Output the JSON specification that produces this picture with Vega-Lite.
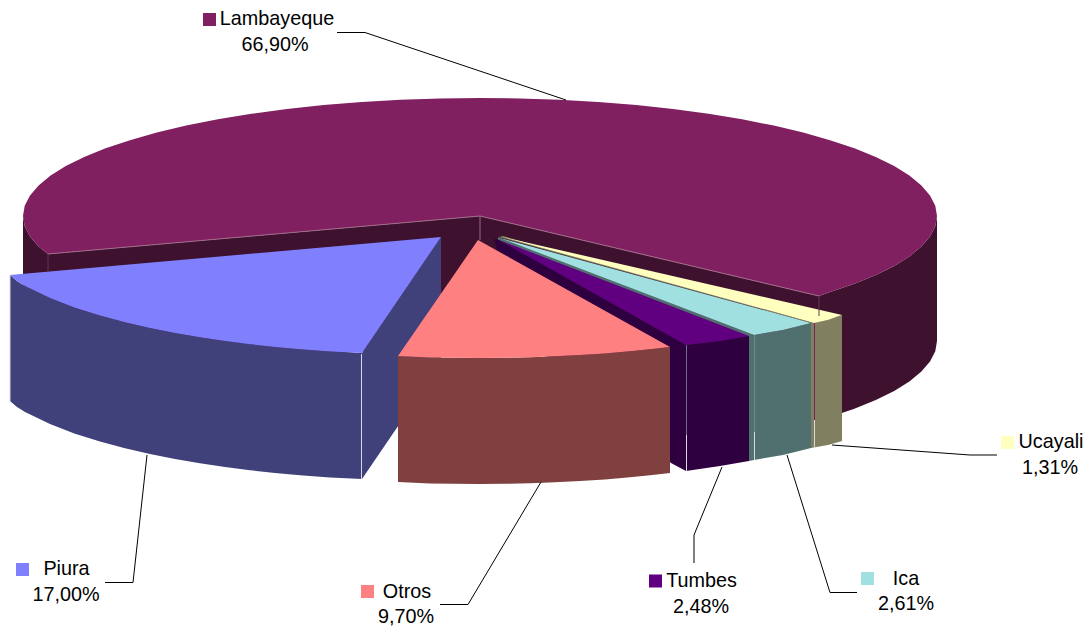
{"$schema":"https://vega.github.io/schema/vega-lite/v6.json","width":1090,"height":628,"padding":0,"autosize":{"type":"none"},"background":"white","view":{"stroke":null},
"datasets":{
"poly":[
{"p":"a1","f":"Lambayeque side","i":0,"x":937,"y":216},{"p":"a1","f":"Lambayeque side","i":1,"x":935.3,"y":226.3},{"p":"a1","f":"Lambayeque side","i":2,"x":930,"y":236.5},{"p":"a1","f":"Lambayeque side","i":3,"x":921.4,"y":246.5},{"p":"a1","f":"Lambayeque side","i":4,"x":909.4,"y":256.4},{"p":"a1","f":"Lambayeque side","i":5,"x":894.2,"y":265.9},{"p":"a1","f":"Lambayeque side","i":6,"x":875.8,"y":275},{"p":"a1","f":"Lambayeque side","i":7,"x":854.4,"y":283.7},{"p":"a1","f":"Lambayeque side","i":8,"x":830,"y":291.9},{"p":"a1","f":"Lambayeque side","i":9,"x":819,"y":296},{"p":"a1","f":"Lambayeque side","i":10,"x":819,"y":421},{"p":"a1","f":"Lambayeque side","i":11,"x":830,"y":416.9},{"p":"a1","f":"Lambayeque side","i":12,"x":854.4,"y":408.7},{"p":"a1","f":"Lambayeque side","i":13,"x":875.8,"y":400},{"p":"a1","f":"Lambayeque side","i":14,"x":894.2,"y":390.9},{"p":"a1","f":"Lambayeque side","i":15,"x":909.4,"y":381.4},{"p":"a1","f":"Lambayeque side","i":16,"x":921.4,"y":371.5},{"p":"a1","f":"Lambayeque side","i":17,"x":930,"y":361.5},{"p":"a1","f":"Lambayeque side","i":18,"x":935.3,"y":351.3},{"p":"a1","f":"Lambayeque side","i":19,"x":937,"y":341},
{"p":"a2","f":"Lambayeque side","i":0,"x":23,"y":216},{"p":"a2","f":"Lambayeque side","i":1,"x":24.7,"y":226.3},{"p":"a2","f":"Lambayeque side","i":2,"x":30,"y":236.5},{"p":"a2","f":"Lambayeque side","i":3,"x":38.6,"y":246.5},{"p":"a2","f":"Lambayeque side","i":4,"x":48,"y":254},{"p":"a2","f":"Lambayeque side","i":5,"x":48,"y":379},{"p":"a2","f":"Lambayeque side","i":6,"x":23,"y":341},
{"p":"a3","f":"Lambayeque side","i":0,"x":48,"y":254},{"p":"a3","f":"Lambayeque side","i":1,"x":480,"y":216},{"p":"a3","f":"Lambayeque side","i":2,"x":819,"y":296},{"p":"a3","f":"Lambayeque side","i":3,"x":819,"y":421},{"p":"a3","f":"Lambayeque side","i":4,"x":480,"y":341},{"p":"a3","f":"Lambayeque side","i":5,"x":48,"y":379},
{"p":"a4","f":"Lambayeque top","i":0,"x":480,"y":216},{"p":"a4","f":"Lambayeque top","i":1,"x":819,"y":296},{"p":"a4","f":"Lambayeque top","i":2,"x":830,"y":291.9},{"p":"a4","f":"Lambayeque top","i":3,"x":854.4,"y":283.7},{"p":"a4","f":"Lambayeque top","i":4,"x":875.8,"y":275},{"p":"a4","f":"Lambayeque top","i":5,"x":894.2,"y":265.9},{"p":"a4","f":"Lambayeque top","i":6,"x":909.4,"y":256.4},{"p":"a4","f":"Lambayeque top","i":7,"x":921.4,"y":246.5},{"p":"a4","f":"Lambayeque top","i":8,"x":930,"y":236.5},{"p":"a4","f":"Lambayeque top","i":9,"x":935.3,"y":226.3},{"p":"a4","f":"Lambayeque top","i":10,"x":937,"y":216},{"p":"a4","f":"Lambayeque top","i":11,"x":935.3,"y":205.7},{"p":"a4","f":"Lambayeque top","i":12,"x":930,"y":195.5},{"p":"a4","f":"Lambayeque top","i":13,"x":921.4,"y":185.5},{"p":"a4","f":"Lambayeque top","i":14,"x":909.4,"y":175.6},{"p":"a4","f":"Lambayeque top","i":15,"x":894.2,"y":166.1},{"p":"a4","f":"Lambayeque top","i":16,"x":875.8,"y":157},{"p":"a4","f":"Lambayeque top","i":17,"x":854.4,"y":148.3},{"p":"a4","f":"Lambayeque top","i":18,"x":830,"y":140.2},{"p":"a4","f":"Lambayeque top","i":19,"x":803.2,"y":132.6},{"p":"a4","f":"Lambayeque top","i":20,"x":773.8,"y":125.6},{"p":"a4","f":"Lambayeque top","i":21,"x":742.1,"y":119.3},{"p":"a4","f":"Lambayeque top","i":22,"x":708.5,"y":113.8},{"p":"a4","f":"Lambayeque top","i":23,"x":673.1,"y":109.1},{"p":"a4","f":"Lambayeque top","i":24,"x":636.3,"y":105.1},{"p":"a4","f":"Lambayeque top","i":25,"x":598.3,"y":102},{"p":"a4","f":"Lambayeque top","i":26,"x":559.4,"y":99.8},{"p":"a4","f":"Lambayeque top","i":27,"x":519.8,"y":98.4},{"p":"a4","f":"Lambayeque top","i":28,"x":480,"y":98},{"p":"a4","f":"Lambayeque top","i":29,"x":440.2,"y":98.4},{"p":"a4","f":"Lambayeque top","i":30,"x":400.6,"y":99.8},{"p":"a4","f":"Lambayeque top","i":31,"x":361.7,"y":102},{"p":"a4","f":"Lambayeque top","i":32,"x":323.7,"y":105.1},{"p":"a4","f":"Lambayeque top","i":33,"x":286.9,"y":109.1},{"p":"a4","f":"Lambayeque top","i":34,"x":251.5,"y":113.8},{"p":"a4","f":"Lambayeque top","i":35,"x":217.9,"y":119.3},{"p":"a4","f":"Lambayeque top","i":36,"x":186.2,"y":125.6},{"p":"a4","f":"Lambayeque top","i":37,"x":156.8,"y":132.6},{"p":"a4","f":"Lambayeque top","i":38,"x":130,"y":140.2},{"p":"a4","f":"Lambayeque top","i":39,"x":105.6,"y":148.3},{"p":"a4","f":"Lambayeque top","i":40,"x":84.2,"y":157},{"p":"a4","f":"Lambayeque top","i":41,"x":65.8,"y":166.1},{"p":"a4","f":"Lambayeque top","i":42,"x":50.6,"y":175.6},{"p":"a4","f":"Lambayeque top","i":43,"x":38.6,"y":185.5},{"p":"a4","f":"Lambayeque top","i":44,"x":30,"y":195.5},{"p":"a4","f":"Lambayeque top","i":45,"x":24.7,"y":205.7},{"p":"a4","f":"Lambayeque top","i":46,"x":23,"y":216},{"p":"a4","f":"Lambayeque top","i":47,"x":24.7,"y":226.3},{"p":"a4","f":"Lambayeque top","i":48,"x":30,"y":236.5},{"p":"a4","f":"Lambayeque top","i":49,"x":38.6,"y":246.5},{"p":"a4","f":"Lambayeque top","i":50,"x":48,"y":254},
{"p":"b1","f":"Piura side","i":0,"x":441,"y":237},{"p":"b1","f":"Piura side","i":1,"x":362,"y":353},{"p":"b1","f":"Piura side","i":2,"x":362,"y":479},{"p":"b1","f":"Piura side","i":3,"x":441,"y":363},
{"p":"b2","f":"Piura side","i":0,"x":10,"y":275},{"p":"b2","f":"Piura side","i":1,"x":17,"y":281},{"p":"b2","f":"Piura side","i":2,"x":25,"y":285.9},{"p":"b2","f":"Piura side","i":3,"x":50,"y":298.1},{"p":"b2","f":"Piura side","i":4,"x":75,"y":307.7},{"p":"b2","f":"Piura side","i":5,"x":100,"y":315.6},{"p":"b2","f":"Piura side","i":6,"x":125,"y":322.2},{"p":"b2","f":"Piura side","i":7,"x":150,"y":328},{"p":"b2","f":"Piura side","i":8,"x":175,"y":332.9},{"p":"b2","f":"Piura side","i":9,"x":200,"y":337.3},{"p":"b2","f":"Piura side","i":10,"x":225,"y":341},{"p":"b2","f":"Piura side","i":11,"x":250,"y":344.2},{"p":"b2","f":"Piura side","i":12,"x":275,"y":346.9},{"p":"b2","f":"Piura side","i":13,"x":300,"y":349.2},{"p":"b2","f":"Piura side","i":14,"x":330,"y":351.5},{"p":"b2","f":"Piura side","i":15,"x":362,"y":353},{"p":"b2","f":"Piura side","i":16,"x":362,"y":479},{"p":"b2","f":"Piura side","i":17,"x":330,"y":477.5},{"p":"b2","f":"Piura side","i":18,"x":300,"y":475.2},{"p":"b2","f":"Piura side","i":19,"x":275,"y":472.9},{"p":"b2","f":"Piura side","i":20,"x":250,"y":470.2},{"p":"b2","f":"Piura side","i":21,"x":225,"y":467},{"p":"b2","f":"Piura side","i":22,"x":200,"y":463.3},{"p":"b2","f":"Piura side","i":23,"x":175,"y":458.9},{"p":"b2","f":"Piura side","i":24,"x":150,"y":454},{"p":"b2","f":"Piura side","i":25,"x":125,"y":448.2},{"p":"b2","f":"Piura side","i":26,"x":100,"y":441.6},{"p":"b2","f":"Piura side","i":27,"x":75,"y":433.7},{"p":"b2","f":"Piura side","i":28,"x":50,"y":424},{"p":"b2","f":"Piura side","i":29,"x":25,"y":412},{"p":"b2","f":"Piura side","i":30,"x":17,"y":407},{"p":"b2","f":"Piura side","i":31,"x":10,"y":401},
{"p":"b3","f":"Piura top","i":0,"x":441,"y":237},{"p":"b3","f":"Piura top","i":1,"x":10,"y":275},{"p":"b3","f":"Piura top","i":2,"x":17,"y":281},{"p":"b3","f":"Piura top","i":3,"x":25,"y":285.9},{"p":"b3","f":"Piura top","i":4,"x":50,"y":298.1},{"p":"b3","f":"Piura top","i":5,"x":75,"y":307.7},{"p":"b3","f":"Piura top","i":6,"x":100,"y":315.6},{"p":"b3","f":"Piura top","i":7,"x":125,"y":322.2},{"p":"b3","f":"Piura top","i":8,"x":150,"y":328},{"p":"b3","f":"Piura top","i":9,"x":175,"y":332.9},{"p":"b3","f":"Piura top","i":10,"x":200,"y":337.3},{"p":"b3","f":"Piura top","i":11,"x":225,"y":341},{"p":"b3","f":"Piura top","i":12,"x":250,"y":344.2},{"p":"b3","f":"Piura top","i":13,"x":275,"y":346.9},{"p":"b3","f":"Piura top","i":14,"x":300,"y":349.2},{"p":"b3","f":"Piura top","i":15,"x":330,"y":351.5},{"p":"b3","f":"Piura top","i":16,"x":362,"y":353},
{"p":"c1","f":"Ucayali side","i":0,"x":811,"y":323},{"p":"c1","f":"Ucayali side","i":1,"x":828,"y":320},{"p":"c1","f":"Ucayali side","i":2,"x":842,"y":315},{"p":"c1","f":"Ucayali side","i":3,"x":842,"y":441},{"p":"c1","f":"Ucayali side","i":4,"x":828,"y":445},{"p":"c1","f":"Ucayali side","i":5,"x":811,"y":448},
{"p":"c2","f":"Ucayali side","i":0,"x":499,"y":237},{"p":"c2","f":"Ucayali side","i":1,"x":503,"y":236},{"p":"c2","f":"Ucayali side","i":2,"x":814,"y":323},{"p":"c2","f":"Ucayali side","i":3,"x":811,"y":323},
{"p":"c3","f":"Ucayali top","i":0,"x":503,"y":237},{"p":"c3","f":"Ucayali top","i":1,"x":842,"y":315},{"p":"c3","f":"Ucayali top","i":2,"x":828,"y":320},{"p":"c3","f":"Ucayali top","i":3,"x":814,"y":323},
{"p":"d1","f":"Ica side","i":0,"x":749,"y":336},{"p":"d1","f":"Ica side","i":1,"x":754,"y":335},{"p":"d1","f":"Ica side","i":2,"x":783,"y":330},{"p":"d1","f":"Ica side","i":3,"x":811,"y":323},{"p":"d1","f":"Ica side","i":4,"x":811,"y":448},{"p":"d1","f":"Ica side","i":5,"x":783,"y":455},{"p":"d1","f":"Ica side","i":6,"x":754,"y":460},{"p":"d1","f":"Ica side","i":7,"x":749,"y":461},
{"p":"d2","f":"Ica side","i":0,"x":498,"y":237},{"p":"d2","f":"Ica side","i":1,"x":754,"y":335},{"p":"d2","f":"Ica side","i":2,"x":749,"y":337},{"p":"d2","f":"Ica side","i":3,"x":498,"y":240},
{"p":"d3","f":"Ica top","i":0,"x":500,"y":238},{"p":"d3","f":"Ica top","i":1,"x":811,"y":323},{"p":"d3","f":"Ica top","i":2,"x":783,"y":330},{"p":"d3","f":"Ica top","i":3,"x":754,"y":335},
{"p":"e1","f":"Tumbes side","i":0,"x":686,"y":345},{"p":"e1","f":"Tumbes side","i":1,"x":720,"y":341},{"p":"e1","f":"Tumbes side","i":2,"x":749,"y":336},{"p":"e1","f":"Tumbes side","i":3,"x":749,"y":461},{"p":"e1","f":"Tumbes side","i":4,"x":720,"y":466},{"p":"e1","f":"Tumbes side","i":5,"x":686,"y":471},
{"p":"e2","f":"Tumbes side","i":0,"x":494,"y":239},{"p":"e2","f":"Tumbes side","i":1,"x":499,"y":240},{"p":"e2","f":"Tumbes side","i":2,"x":686,"y":345},{"p":"e2","f":"Tumbes side","i":3,"x":686,"y":471},{"p":"e2","f":"Tumbes side","i":4,"x":671,"y":463},{"p":"e2","f":"Tumbes side","i":5,"x":520,"y":330},
{"p":"e3","f":"Tumbes top","i":0,"x":499,"y":240},{"p":"e3","f":"Tumbes top","i":1,"x":749,"y":336},{"p":"e3","f":"Tumbes top","i":2,"x":720,"y":341},{"p":"e3","f":"Tumbes top","i":3,"x":686,"y":345},
{"p":"f1","f":"Otros side","i":0,"x":398,"y":356},{"p":"f1","f":"Otros side","i":1,"x":414,"y":356.8},{"p":"f1","f":"Otros side","i":2,"x":430,"y":357.4},{"p":"f1","f":"Otros side","i":3,"x":454,"y":357.8},{"p":"f1","f":"Otros side","i":4,"x":478,"y":358},{"p":"f1","f":"Otros side","i":5,"x":505,"y":357.8},{"p":"f1","f":"Otros side","i":6,"x":530,"y":357.2},{"p":"f1","f":"Otros side","i":7,"x":555,"y":356.3},{"p":"f1","f":"Otros side","i":8,"x":580,"y":355},{"p":"f1","f":"Otros side","i":9,"x":605,"y":353.4},{"p":"f1","f":"Otros side","i":10,"x":630,"y":351.3},{"p":"f1","f":"Otros side","i":11,"x":650,"y":349.3},{"p":"f1","f":"Otros side","i":12,"x":670,"y":347},{"p":"f1","f":"Otros side","i":13,"x":670,"y":473},{"p":"f1","f":"Otros side","i":14,"x":650,"y":475.3},{"p":"f1","f":"Otros side","i":15,"x":630,"y":477.3},{"p":"f1","f":"Otros side","i":16,"x":605,"y":479.4},{"p":"f1","f":"Otros side","i":17,"x":580,"y":481},{"p":"f1","f":"Otros side","i":18,"x":555,"y":482.3},{"p":"f1","f":"Otros side","i":19,"x":530,"y":483.2},{"p":"f1","f":"Otros side","i":20,"x":505,"y":483.8},{"p":"f1","f":"Otros side","i":21,"x":478,"y":484},{"p":"f1","f":"Otros side","i":22,"x":454,"y":483.8},{"p":"f1","f":"Otros side","i":23,"x":430,"y":483.4},{"p":"f1","f":"Otros side","i":24,"x":414,"y":482.8},{"p":"f1","f":"Otros side","i":25,"x":398,"y":482},
{"p":"f2","f":"Otros top","i":0,"x":478,"y":240},{"p":"f2","f":"Otros top","i":1,"x":670,"y":347},{"p":"f2","f":"Otros top","i":2,"x":650,"y":349.3},{"p":"f2","f":"Otros top","i":3,"x":630,"y":351.3},{"p":"f2","f":"Otros top","i":4,"x":605,"y":353.4},{"p":"f2","f":"Otros top","i":5,"x":580,"y":355},{"p":"f2","f":"Otros top","i":6,"x":555,"y":356.3},{"p":"f2","f":"Otros top","i":7,"x":530,"y":357.2},{"p":"f2","f":"Otros top","i":8,"x":505,"y":357.8},{"p":"f2","f":"Otros top","i":9,"x":478,"y":358},{"p":"f2","f":"Otros top","i":10,"x":454,"y":357.8},{"p":"f2","f":"Otros top","i":11,"x":430,"y":357.4},{"p":"f2","f":"Otros top","i":12,"x":414,"y":356.8},{"p":"f2","f":"Otros top","i":13,"x":398,"y":356}
],
"edges":[
{"id":"e1","k":"plum","i":0,"x":48,"y":254},{"id":"e1","k":"plum","i":1,"x":480,"y":216},{"id":"e1","k":"plum","i":2,"x":819,"y":296},
{"id":"e2","k":"plum","i":0,"x":480,"y":216},{"id":"e2","k":"plum","i":1,"x":480,"y":240},
{"id":"e3","k":"faint","i":0,"x":48,"y":254},{"id":"e3","k":"faint","i":1,"x":48,"y":272},
{"id":"e4","k":"faint","i":0,"x":819,"y":296},{"id":"e4","k":"faint","i":1,"x":819,"y":316},
{"id":"e5","k":"grey","i":0,"x":686.5,"y":345},{"id":"e5","k":"grey","i":1,"x":686.5,"y":435},
{"id":"e6","k":"white","i":0,"x":686.5,"y":435},{"id":"e6","k":"white","i":1,"x":686.5,"y":471},
{"id":"e7","k":"teal","i":0,"x":754.5,"y":335},{"id":"e7","k":"teal","i":1,"x":754.5,"y":432},
{"id":"e8","k":"white","i":0,"x":754.5,"y":432},{"id":"e8","k":"white","i":1,"x":754.5,"y":460},
{"id":"e9","k":"dark","i":0,"x":814.5,"y":323},{"id":"e9","k":"dark","i":1,"x":814.5,"y":420},
{"id":"e10","k":"white","i":0,"x":814.5,"y":420},{"id":"e10","k":"white","i":1,"x":814.5,"y":448},
{"id":"e11","k":"white","i":0,"x":361.5,"y":354},{"id":"e11","k":"white","i":1,"x":361.5,"y":479},
{"id":"e12","k":"white","i":0,"x":10,"y":275},{"id":"e12","k":"white","i":1,"x":10,"y":401},
{"id":"l1","k":"leader","i":0,"x":337,"y":32.5},{"id":"l1","k":"leader","i":1,"x":365,"y":32.5},{"id":"l1","k":"leader","i":2,"x":566,"y":100},
{"id":"l2","k":"leader","i":0,"x":105,"y":582.5},{"id":"l2","k":"leader","i":1,"x":133,"y":582.5},{"id":"l2","k":"leader","i":2,"x":147,"y":455},
{"id":"l3","k":"leader","i":0,"x":440,"y":604.5},{"id":"l3","k":"leader","i":1,"x":468,"y":604.5},{"id":"l3","k":"leader","i":2,"x":541,"y":482},
{"id":"l4","k":"leader","i":0,"x":722,"y":467},{"id":"l4","k":"leader","i":1,"x":694,"y":535},{"id":"l4","k":"leader","i":2,"x":694,"y":563},
{"id":"l5","k":"leader","i":0,"x":787,"y":455},{"id":"l5","k":"leader","i":1,"x":830,"y":592.5},{"id":"l5","k":"leader","i":2,"x":857,"y":592.5},
{"id":"l6","k":"leader","i":0,"x":832,"y":445},{"id":"l6","k":"leader","i":1,"x":970,"y":455},{"id":"l6","k":"leader","i":2,"x":997,"y":455}
],
"keys":[
{"f":"Lambayeque top","x":209.5,"y":19.5},{"f":"Piura top","x":22.5,"y":569.5},{"f":"Otros top","x":367.5,"y":591.5},{"f":"Tumbes top","x":655.5,"y":581},{"f":"Ica top","x":867.5,"y":578.5},{"f":"Ucayali top","x":1007.5,"y":442.5}
],
"labels":[
{"t":"Lambayeque","x":277,"y":25},{"t":"66,90%","x":275,"y":51},
{"t":"Piura","x":66.5,"y":575},{"t":"17,00%","x":66,"y":601},
{"t":"Otros","x":407,"y":598},{"t":"9,70%","x":406,"y":623},
{"t":"Tumbes","x":701.5,"y":587},{"t":"2,48%","x":701,"y":613},
{"t":"Ica","x":906,"y":585},{"t":"2,61%","x":906,"y":610},
{"t":"Ucayali","x":1051,"y":448},{"t":"1,31%","x":1050,"y":474}
]},
"encoding":{
"x":{"field":"x","type":"quantitative","axis":null,"scale":{"domain":[0,1090],"nice":false,"zero":false}},
"y":{"field":"y","type":"quantitative","axis":null,"scale":{"domain":[628,0],"nice":false,"zero":false}}
},
"layer":[
{"data":{"name":"poly"},"mark":{"type":"line","stroke":null,"clip":true},"encoding":{
"detail":{"field":"p"},"order":{"field":"i","type":"quantitative"},
"fill":{"field":"f","type":"nominal","legend":null,"scale":{"domain":["Lambayeque top","Lambayeque side","Piura top","Piura side","Otros top","Otros side","Tumbes top","Tumbes side","Ica top","Ica side","Ucayali top","Ucayali side"],"range":["#802060","#3E112F","#8080FF","#40407A","#FF8080","#804040","#600080","#2F0040","#A0E0E0","#507070","#FFFFC0","#808060"]}}}},
{"data":{"name":"edges"},"mark":{"type":"line","strokeWidth":1},"encoding":{
"detail":{"field":"id"},"order":{"field":"i","type":"quantitative"},
"stroke":{"field":"k","type":"nominal","legend":null,"scale":{"domain":["plum","faint","grey","teal","white","dark","leader"],"range":["#A06A88","#5F3A52","#6F6F8F","#6F8A8A","#D8D8E0","#802060","#000000"]}}}},
{"data":{"name":"keys"},"mark":{"type":"point","shape":"square","filled":true,"size":169,"opacity":1},"encoding":{"fill":{"field":"f","type":"nominal","legend":null}}},
{"data":{"name":"labels"},"mark":{"type":"text","font":"Liberation Sans","fontSize":19.8,"align":"center","baseline":"alphabetic","color":"#000000"},"encoding":{"text":{"field":"t"}}}
]}
